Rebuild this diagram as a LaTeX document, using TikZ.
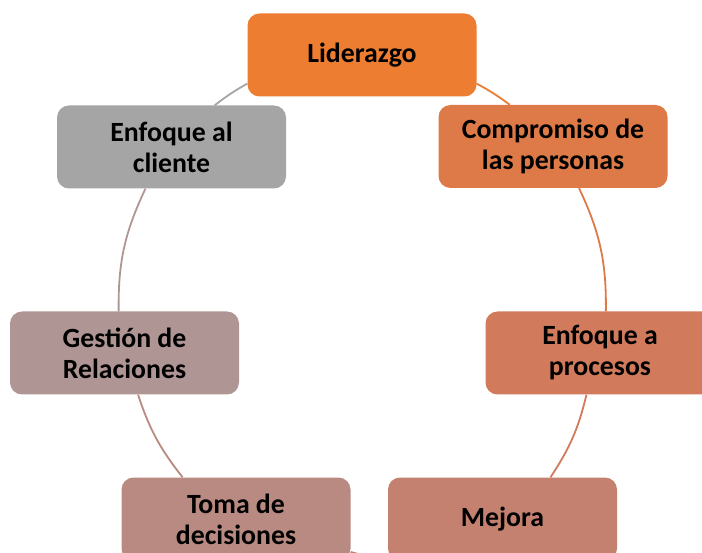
\documentclass[tikz,border=0pt]{standalone}
\usepackage{fontspec}
\setmainfont{Carlito}
\usepackage{xcolor}

\begin{document}
\begin{tikzpicture}[x=1pt,y=-1pt,
  mybox/.style={rounded corners=12pt,minimum width=229pt,minimum height=83pt,inner sep=0pt,
    align=center,font=\bfseries\fontsize{27.8}{31}\selectfont},
  myarc/.style={line width=1.8pt}]
\definecolor{tangerine}{HTML}{ED7D31}
\definecolor{burntcoral}{HTML}{DE7A47}
\definecolor{terracotta}{HTML}{D17B5C}
\definecolor{clay}{HTML}{C48170}
\definecolor{rosewood}{HTML}{B98A82}
\definecolor{dustymauve}{HTML}{AF9694}
\definecolor{silvergray}{HTML}{A5A5A5}
\useasboundingbox (0,0) rectangle (702,553);
\clip (0,0) rectangle (702,553);
  \foreach \nm/\crlr/\x/\y/\txt in {lid/tangerine/362/55/{Liderazgo},
      comp/burntcoral/553/146.5/{Compromiso de\\las personas},
      proc/terracotta/600/353/{Enfoque a\\procesos},
      mej/clay/502.5/519/{Mejora},
      toma/rosewood/236/519/{Toma de\\decisiones},
      gest/dustymauve/124.5/353/{Gestión de\\Relaciones},
      cli/silvergray/171.5/147/{Enfoque al\\cliente}}
  {  \node [mybox,fill=\crlr] (\nm) at (\x,\y) {\txt};}
  \foreach \a/\b/\s/\e/\bnd/\crlr in {lid/comp/-14/136/4/tangerine,
      comp/proc/-58/82/13/burntcoral,
      proc/mej/-108/41/10/terracotta,
      mej/toma/-150/-16/10/clay,
      toma/gest/142/-72/10/rosewood,
      gest/cli/98/-122/13/dustymauve,
      cli/lid/44/-166/4/silvergray}
  {  \draw [myarc,\crlr] (\a.\s) to[bend left=\bnd] (\b.\e);}
\end{tikzpicture}
\end{document}
